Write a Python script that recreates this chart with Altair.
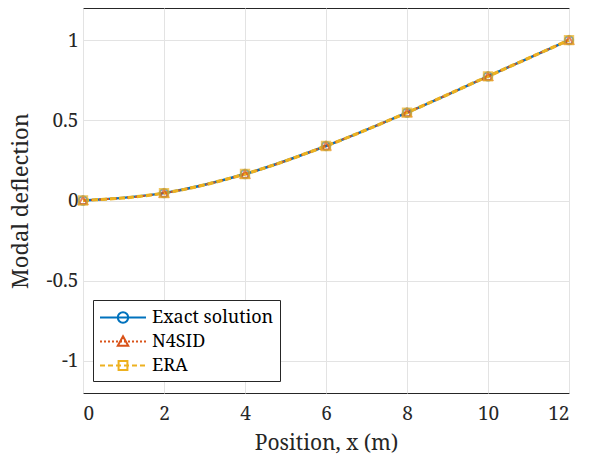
import altair as alt
import pandas as pd

positions = [0, 2, 4, 6, 8, 10, 12]
exact = [0.0, 0.046, 0.165, 0.340, 0.548, 0.774, 1.0]
n4sid = [0.0, 0.046, 0.165, 0.340, 0.548, 0.774, 1.0]
era = [0.0, 0.046, 0.165, 0.340, 0.548, 0.774, 1.0]
series = ["Exact solution", "N4SID", "ERA"]
colors = ["#0072BD", "#D95319", "#EDB120"]

rows = []
for name, vals in zip(series, [exact, n4sid, era]):
    for x, y in zip(positions, vals):
        rows.append({"x": x, "y": y, "series": name})
df = pd.DataFrame(rows)

FONT = "Noto Serif"

# legend symbol geometry (symbol units; 1 unit = sqrt(size)/2 px)
SYM_SIZE = 441
U = 10.5
L0 = -1.0
L1 = L0 + 46 / U
MC = (L0 + L1) / 2
r = 5.2 / U


def seg_path(on, off):
    parts = []
    x = L0
    while x < L1:
        e = min(x + on, L1)
        parts.append(f"M{x:.3f},0L{e:.3f},0")
        x = e + off
    return "".join(parts)


circle = f"M{MC + r:.3f},0A{r:.3f},{r:.3f},0,1,0,{MC - r:.3f},0A{r:.3f},{r:.3f},0,1,0,{MC + r:.3f},0"
tri = f"M{MC:.3f},{-r:.3f}L{MC + r:.3f},{r * 0.8:.3f}L{MC - r:.3f},{r * 0.8:.3f}Z"
s = r * 0.85
sq = f"M{MC - s:.3f},{-s:.3f}L{MC + s:.3f},{-s:.3f}L{MC + s:.3f},{s:.3f}L{MC - s:.3f},{s:.3f}Z"
legend_shapes = [
    f"M{L0:.3f},0L{L1:.3f},0" + circle,
    seg_path(2 / U, 2 / U) + tri,
    seg_path(5 / U, 3 / U) + sq,
]

xscale = alt.Scale(domain=[0, 12], nice=False)
yscale = alt.Scale(domain=[-1.2, 1.2], nice=False)

xaxis = alt.Axis(values=positions, title="Position, x (m)", grid=True, ticks=False,
                 labelPadding=11, titlePadding=9, titleFontSize=21)
yaxis = alt.Axis(values=[-1, -0.5, 0, 0.5, 1], title="Modal deflection", grid=True, ticks=False,
                 labelPadding=5, titlePadding=14, titleFontSize=22,
                 labelExpr="toString(datum.value)")

base = alt.Chart(df)

styles = {
    "Exact solution": dict(strokeWidth=2.5),
    "N4SID": dict(strokeWidth=2, strokeDash=[2, 2]),
    "ERA": dict(strokeWidth=3.2, strokeDash=[6, 3]),
}
marker_shapes = {"Exact solution": "circle", "N4SID": "triangle-up", "ERA": "square"}

layers = []
for name, col in zip(series, colors):
    sub = base.transform_filter(alt.datum.series == name)
    layers.append(
        sub.mark_line(color=col, interpolate="monotone", **styles[name]).encode(
            x=alt.X("x:Q", scale=xscale, axis=xaxis),
            y=alt.Y("y:Q", scale=yscale, axis=yaxis),
        )
    )
for name, col in zip(series, colors):
    sub = base.transform_filter(alt.datum.series == name)
    layers.append(
        sub.mark_point(color=col, shape=marker_shapes[name], filled=False, size=70, strokeWidth=2).encode(
            x=alt.X("x:Q", scale=xscale, axis=xaxis),
            y=alt.Y("y:Q", scale=yscale, axis=yaxis),
        )
    )

legend_layer = base.mark_point(opacity=0, filled=False).encode(
    x=alt.X("x:Q", scale=xscale, axis=xaxis),
    y=alt.Y("y:Q", scale=yscale, axis=yaxis),
    color=alt.Color("series:N", scale=alt.Scale(domain=series, range=colors),
                    legend=alt.Legend(title=None, orient="none", legendX=10, legendY=292,
                                      symbolOpacity=1, symbolSize=SYM_SIZE, symbolStrokeWidth=2,
                                      symbolFillColor="transparent",
                                      labelFont=FONT, labelFontSize=18, labelColor="#000000",
                                      fillColor="white", strokeColor="#262626",
                                      padding=6, rowPadding=3, labelOffset=30,
                                      labelLimit=300)),
    shape=alt.Shape("series:N", scale=alt.Scale(domain=series, range=legend_shapes)),
)
layers.append(legend_layer)

chart = alt.layer(*layers).properties(
    width=486, height=385,
    autosize=alt.AutoSizeParams(type="none"),
    padding={"left": 83, "top": 8, "right": 32, "bottom": 70},
).configure(
    background="white"
).configure_view(
    stroke="#262626", strokeWidth=1
).configure_axis(
    labelFont=FONT, labelFontSize=19, labelColor="#262626",
    titleFont=FONT, titleColor="#262626", titleFontWeight="normal",
    gridColor="#e3e3e3", gridWidth=1, domain=False,
)

chart.save("out.html", embed_options={"renderer": "svg", "actions": False})
